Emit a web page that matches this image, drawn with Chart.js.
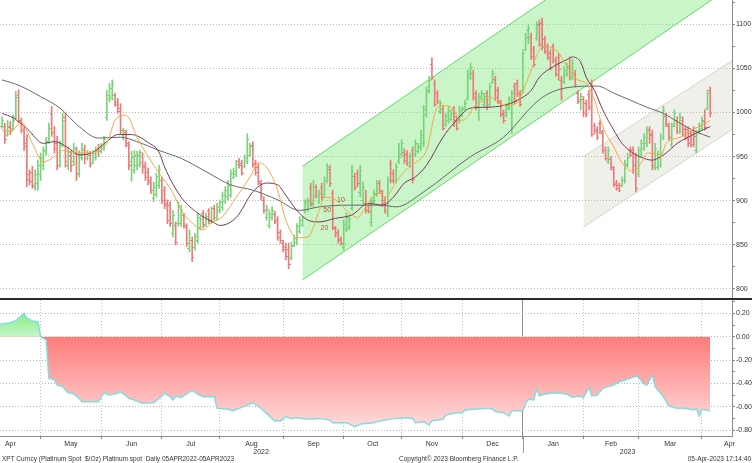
<!DOCTYPE html>
<html>
<head>
<meta charset="utf-8">
<script src="https://cdn.jsdelivr.net/npm/chart.js@4.4.0/dist/chart.umd.min.js"></script>
<style>
  body { margin: 0; background: #fff; width: 752px; height: 463px; overflow: hidden; position: relative; font-family: "Liberation Sans", Arial, sans-serif; }
  #priceBox { position: absolute; left: 0; top: 0; width: 752px; height: 298px; }
  #oscBox { position: absolute; left: 0; top: 298px; width: 752px; height: 158px; }
  .foot { position: absolute; top: 455px; font-size: 6.5px; line-height: 8px; color: #333; white-space: pre; }
</style>
</head>
<body>
<div id="priceBox"><canvas id="priceChart" width="752" height="298"></canvas></div>
<div id="oscBox"><canvas id="oscChart" width="752" height="158"></canvas></div>
<div class="foot" style="left:2px">XPT Curncy (Platinum Spot  $/Oz) Platinum spot  Daily 05APR2022-05APR2023</div>
<div class="foot" style="left:399px">Copyright© 2023 Bloomberg Finance L.P.</div>
<div class="foot" style="right:1px">05-Apr-2023 17:14:40</div>
<script>
// trading day index: 0 = 05 Apr 2022, bars start at day 5
const firstDay = 5;
const opens = [
  985,985,975,984,983,995,1020,990,980,965,
  930,933,917,920,930,940,957,968,1000,978,
  965,941,965,995,940,952,945,955,932,950,
  958,948,952,944,950,957,956,960,995,1015,
  1018,1020,1012,1005,972,978,963,945,935,940,
  942,944,940,933,924,903,908,918,924,912,
  897,895,863,872,875,875,884,870,846,855,
  848,856,870,886,874,888,877,892,882,889,
  893,900,905,907,927,930,945,943,939,945,
  952,963,943,938,920,901,881,872,881,885,
  879,864,852,848,845,836,850,853,866,873,
  889,891,915,896,915,900,916,908,924,936,
  909,869,864,857,848,868,870,892,928,931,
  910,901,897,895,876,900,908,920,909,901,
  886,942,932,923,945,953,955,953,941,957,
  953,956,961,965,998,1025,1055,1034,1022,1002,
  1004,987,991,993,1004,992,991,997,1005,1017,
  1040,1045,1022,1007,1016,1010,1022,1010,1035,1038,
  1026,1012,1000,997,1005,980,1030,1034,1022,1026,
  1072,1094,1086,1072,1085,1100,1102,1083,1075,1068,
  1075,1060,1063,1037,1036,1044,1050,1040,1045,1022,
  1015,1015,1011,1021,1033,986,981,988,977,958,
  945,947,936,920,918,918,923,941,958,957,
  950,930,953,960,965,981,976,938,938,941,
  972,996,985,964,987,992,979,992,981,981,
  977,980,957,978,982,990,1005,1025
];
const highs = [
  995,988,991,990,997,1024,1026,994,984,975,
  935,939,935,946,954,961,972,988,1007,984,
  973,968,999,999,961,957,965,961,957,965,
  963,957,956,957,961,964,965,973,1025,1033,
  1037,1022,1016,1010,982,980,967,956,957,956,
  957,954,944,937,927,921,931,940,927,916,
  901,899,889,876,899,895,886,874,867,859,
  863,886,882,889,886,891,893,895,897,901,
  910,916,923,935,937,946,948,946,952,976,
  965,967,946,942,923,904,895,889,893,888,
  882,867,855,852,852,853,861,874,882,882,
  901,903,920,923,918,912,920,927,942,940,
  912,871,867,859,878,886,882,940,931,935,
  940,921,912,897,904,912,923,923,912,904,
  927,946,935,942,965,969,959,957,954,961,
  969,965,980,1008,1029,1041,1062,1037,1025,1014,
  1007,999,1007,1003,1007,995,1007,1007,1014,1048,
  1056,1048,1025,1022,1025,1022,1025,1033,1048,1041,
  1029,1014,1003,1010,1018,1025,1033,1037,1025,1071,
  1090,1099,1090,1075,1103,1105,1107,1086,1078,1071,
  1078,1063,1067,1041,1052,1056,1063,1060,1048,1025,
  1022,1018,1014,1025,1037,988,984,991,980,961,
  961,950,939,923,920,927,946,954,961,961,
  954,961,969,976,984,984,980,965,957,976,
  1007,999,988,988,1003,995,999,995,984,984,
  980,984,980,988,995,1003,1025,1029
];
const lows = [
  982,965,973,975,980,993,988,977,957,916,
  918,914,912,912,923,935,952,965,973,954,
  935,938,961,938,935,933,940,923,927,946,
  942,946,938,942,946,950,954,957,991,1012,
  1014,1007,999,976,969,961,935,922,931,935,
  938,931,923,918,908,899,904,914,897,891,
  874,871,859,850,871,871,869,848,842,831,
  844,852,867,869,871,874,874,878,878,886,
  889,897,901,904,925,927,937,929,937,942,
  950,938,929,918,901,886,878,869,878,874,
  855,852,842,833,823,833,848,850,863,871,
  886,888,893,893,903,897,901,905,920,916,
  867,859,852,850,844,865,867,889,912,916,
  904,897,886,886,871,897,905,908,893,886,
  882,920,920,920,942,950,942,940,938,920,
  950,954,957,961,995,1022,1037,1007,1010,999,
  980,984,988,991,984,980,988,995,1003,1014,
  1037,1014,1003,991,1014,1007,1003,1007,1033,1014,
  1010,995,988,995,1003,976,1010,1018,1007,1022,
  1070,1078,1060,1052,1082,1075,1071,1067,1060,1048,
  1056,1041,1037,1014,1033,1041,1037,1037,1029,1010,
  1003,995,995,1003,973,976,969,976,954,946,
  942,935,916,912,910,916,920,938,950,931,
  910,927,950,957,961,965,935,935,935,938,
  969,984,969,961,984,976,976,973,969,961,
  961,961,954,976,980,980,1003,995
];
const closes = [
  992,970,985,980,992,1018,992,980,962,925,
  922,918,930,940,948,956,967,983,978,960,
  940,963,992,945,955,940,960,930,952,960,
  948,954,942,954,958,956,962,970,1020,1028,
  1032,1010,1002,980,980,965,940,950,952,952,
  955,938,927,921,912,916,928,936,901,895,
  878,875,884,853,895,890,872,852,862,836,
  860,882,879,873,883,878,878,882,893,898,
  906,912,918,931,934,942,940,932,949,970,
  962,942,933,922,905,889,891,885,890,877,
  859,855,845,837,828,849,858,871,878,880,
  898,900,897,905,906,909,904,923,938,920,
  870,862,855,852,874,882,879,934,916,920,
  935,916,889,888,899,909,920,911,897,889,
  923,924,923,938,950,965,946,944,951,925,
  965,962,975,1004,1024,1037,1040,1010,1013,1011,
  983,996,1003,1000,996,983,1003,1004,1011,1044,
  1052,1018,1006,1019,1022,1019,1006,1030,1045,1018,
  1013,998,991,1007,1015,1022,1013,1021,1010,1068,
  1086,1096,1064,1055,1099,1078,1075,1070,1063,1051,
  1060,1044,1049,1018,1048,1053,1040,1056,1032,1013,
  1019,999,998,1006,976,979,972,979,957,949,
  957,938,919,914,912,924,942,950,952,941,
  914,957,965,972,980,975,940,960,953,972,
  1003,987,972,985,999,979,995,976,972,965,
  964,973,976,986,992,984,1022,1000
];

// moving averages
const slowDays = [5,11,19,26,33,40,48,54,62,70,79,88,96,105,113,120,131,143,148,158,175,187,197,201,206,212,221,227,233,239,245,251,257,262];
const slowVals = [1037,1031,1018,1005,984,971,972,967,957,948,933,918,912,901,889,893,895,895,893,910,950,972,1006,1017,1025,1029,1030,1022,1014,1006,999,988,978,972];
const midDays = [5,9,14,20,24,29,33,38,43,47,52,58,62,64,70,76,82,84,90,96,101,105,108,112,116,120,126,132,138,143,147,151,155,159,165,169,175,181,187,192,197,200,205,210,212,215,217,220,223,227,230,234,238,241,244,246,250,254,257,262];
const midVals = [999,994,982,965,967,960,952,955,967,975,975,966,955,938,904,886,875,872,881,910,920,918,906,889,878,876,880,884,897,895,904,920,927,940,972,988,1005,1006,1008,1014,1025,1040,1052,1060,1063,1057,1040,1025,1003,980,965,954,948,946,950,954,965,972,977,984];
const fastDays = [5,8,12,16,20,24,27,31,34,40,43,46,49,51,54,58,62,67,70,74,78,81,85,90,95,98,101,105,108,112,116,120,122,126,131,134,138,142,144,148,151,155,159,163,165,169,171,174,176,180,182,185,188,192,194,197,199,201,206,210,214,217,220,223,227,230,234,237,239,241,244,246,251,255,258,262];
const fastVals = [980,978,989,965,944,950,957,955,954,957,965,991,997,994,972,950,931,909,889,875,867,875,882,904,927,943,938,912,878,858,859,888,904,901,886,881,898,909,904,921,933,943,957,1006,1008,1003,991,995,1006,1014,1018,1011,1008,1011,1024,1048,1065,1074,1071,1052,1037,1033,1014,984,961,943,933,943,954,954,950,965,972,980,984,991];
const maTags = ['10', '50', '20'];
const maTagDays = [128, 123, 122];
const maTagPrices = [901, 889, 869];

// trend channels: [start day, end day], prices at both ends
const greenChannelDays = [114, 272];
const greenUpper = [939, 1277];
const greenLower = [810, 1148];
const grayChannelDays = [216, 272];
const grayUpper = [950, 1063];
const grayLower = [870, 985];

// lower panel
const oscDays = [4,8,10,13,14,16,18,19,21,22,24,25,27,28,29,31,33,34,40,42,44,47,48,50,51,53,56,60,62,64,66,67,68,70,72,74,76,78,82,83,87,89,91,94,96,99,101,104,106,108,110,112,116,120,124,125,130,133,135,140,141,144,148,152,154,155,158,160,161,165,166,170,172,173,176,182,183,184,187,189,190,194,195,196,198,199,200,202,206,210,212,214,216,218,219,221,223,225,227,229,233,235,236,238,239,241,242,244,245,247,250,253,256,257,258,259,262];
const oscVals = [0.106,0.12,0.137,0.2,0.158,0.135,0.129,0.0,-0.028,-0.357,-0.366,-0.414,-0.428,-0.457,-0.48,-0.49,-0.528,-0.557,-0.557,-0.48,-0.5,-0.485,-0.471,-0.508,-0.528,-0.542,-0.571,-0.566,-0.528,-0.485,-0.514,-0.542,-0.508,-0.52,-0.491,-0.457,-0.491,-0.514,-0.514,-0.614,-0.622,-0.634,-0.614,-0.585,-0.566,-0.614,-0.657,-0.722,-0.722,-0.686,-0.70,-0.694,-0.708,-0.70,-0.714,-0.737,-0.737,-0.771,-0.748,-0.737,-0.728,-0.714,-0.70,-0.694,-0.70,-0.737,-0.728,-0.757,-0.72,-0.708,-0.671,-0.651,-0.651,-0.628,-0.622,-0.614,-0.622,-0.642,-0.651,-0.68,-0.634,-0.634,-0.571,-0.537,-0.542,-0.443,-0.508,-0.491,-0.48,-0.491,-0.52,-0.508,-0.52,-0.434,-0.508,-0.50,-0.443,-0.428,-0.414,-0.386,-0.357,-0.337,-0.348,-0.405,-0.414,-0.328,-0.428,-0.485,-0.514,-0.594,-0.614,-0.614,-0.628,-0.614,-0.68,-0.622,-0.634];

// axes
const priceTicks = [800,825,850,875,900,925,950,975,1000,1025,1050,1075,1100,1125];
const oscTicks = [-8,-7,-6,-5,-4,-3,-2,-1,0,1,2,3].map(k => k / 10);
const monthStarts = [19, 41, 63, 84, 107, 129, 150, 172, 194, 216, 236, 259];
const yearBreak = 194;
const monthLabelDays = [8, 30, 52, 73.5, 95.5, 118, 139.5, 161, 183, 205, 226, 247.5, 269];
const monthLabels = ['Apr','May','Jun','Jul','Aug','Sep','Oct','Nov','Dec','Jan','Feb','Mar','Apr'];
const yearLabelDays = [99, 232];
const yearLabels = ['2022', '2023'];

const dayMin = 4.25, dayMax = 269.9;
const upColor = '#79d379', downColor = '#ef7878';
const fontFamily = "'Liberation Sans', Arial, sans-serif";

const pts = (xs, ys) => xs.map((d, i) => ({x: d, y: ys[i]}));
const bars = opens.map((o, i) => ({x: firstDay + i, y: [lows[i], highs[i]]}));
const barColors = opens.map((o, i) => closes[i] >= o ? upColor : downColor);

function noPad(s) { s.paddingLeft = 0; s.paddingRight = 0; s.paddingTop = 0; s.paddingBottom = 0; }

// open / close dashes on each bar
const ohlcTicks = {
    id: 'ohlcTicks',
    afterDatasetDraw(chart, args) {
        if (args.index !== 4) return;
        const {ctx, chartArea, scales: {x, y}} = chart;
        ctx.save();
        ctx.beginPath();
        ctx.rect(chartArea.left, chartArea.top, chartArea.width, chartArea.height);
        ctx.clip();
        opens.forEach((o, i) => {
            const px = Math.round(x.getPixelForValue(firstDay + i));
            ctx.fillStyle = barColors[i];
            ctx.fillRect(px - 2, Math.round(y.getPixelForValue(o)), 2, 1);
            ctx.fillRect(px, Math.round(y.getPixelForValue(closes[i])), 2, 1);
        });
        ctx.restore();
    }
};

const maLabels = {
    id: 'maLabels',
    afterDatasetsDraw(chart) {
        const {ctx, scales: {x, y}} = chart;
        ctx.save();
        ctx.font = '7px ' + fontFamily;
        ctx.fillStyle = '#b0553b';
        ctx.textAlign = 'center';
        ctx.textBaseline = 'middle';
        maTags.forEach((t, i) => ctx.fillText(t, x.getPixelForValue(maTagDays[i]), y.getPixelForValue(maTagPrices[i])));
        ctx.restore();
    }
};

const priceChart = new Chart(document.getElementById('priceChart').getContext('2d'), {
    type: 'line',
    data: {
        datasets: [
            { data: pts(greenChannelDays, greenUpper), borderColor: '#62da62', borderWidth: 1, pointRadius: 0, fill: false, order: 10 },
            { data: pts(greenChannelDays, greenLower), borderColor: '#62da62', borderWidth: 1, pointRadius: 0, fill: '-1', backgroundColor: 'rgba(120,230,120,0.40)', order: 10 },
            { data: pts(grayChannelDays, grayUpper), borderColor: '#d4d4c6', borderWidth: 1, pointRadius: 0, fill: false, order: 9 },
            { data: pts(grayChannelDays, grayLower), borderColor: '#d4d4c6', borderWidth: 1, pointRadius: 0, fill: '-1', backgroundColor: 'rgba(205,205,185,0.30)', order: 9 },
            { type: 'bar', data: bars, backgroundColor: barColors, borderWidth: 0, barThickness: 1, order: 5 },
            { data: pts(slowDays, slowVals), borderColor: '#686868', borderWidth: 1, pointRadius: 0, cubicInterpolationMode: 'monotone', order: 3 },
            { data: pts(midDays, midVals), borderColor: '#753b55', borderWidth: 1, pointRadius: 0, cubicInterpolationMode: 'monotone', order: 2 },
            { data: pts(fastDays, fastVals), borderColor: '#f3a744', borderWidth: 1, pointRadius: 0, cubicInterpolationMode: 'monotone', order: 1 }
        ]
    },
    options: {
        responsive: false,
        animation: false,
        events: [],
        layout: { padding: 0, autoPadding: false },
        plugins: { legend: { display: false }, tooltip: { enabled: false } },
        scales: {
            x: { type: 'linear', min: dayMin, max: dayMax, display: false, offset: false },
            y: {
                position: 'right',
                min: 789.7,
                max: 1127.6,
                afterBuildTicks: s => { s.ticks = priceTicks.map(v => ({value: v})); },
                ticks: {
                    callback: v => v % 50 === 0 ? String(v) : '',
                    font: { size: 7, family: fontFamily },
                    color: '#333',
                    padding: 1
                },
                grid: {
                    color: c => (c.tick && c.tick.value % 50 === 0) ? '#b4b4b4' : 'rgba(0,0,0,0)',
                    tickColor: '#8a8a8a',
                    tickLength: 3
                },
                border: { display: true, color: '#8a8a8a', dash: [1, 2] },
                afterFit: s => { s.width = 20; noPad(s); }
            }
        }
    },
    plugins: [ohlcTicks, maLabels]
});

// thick divider above the lower panel and the year mark under its axis
const panelMarks = {
    id: 'panelMarks',
    afterDraw(chart) {
        const {ctx, chartArea, scales: {x}} = chart;
        ctx.save();
        ctx.fillStyle = '#2b2b2b';
        ctx.fillRect(0, 0, chart.width, 2);
        const px = Math.round(x.getPixelForValue(yearBreak)) + 0.5;
        ctx.strokeStyle = '#9a9a9a';
        ctx.lineWidth = 1;
        ctx.beginPath();
        ctx.moveTo(px, chartArea.bottom);
        ctx.lineTo(px, chartArea.bottom + 17);
        ctx.stroke();
        ctx.restore();
    }
};

const oscChart = new Chart(document.getElementById('oscChart').getContext('2d'), {
    type: 'line',
    data: {
        datasets: [{
            data: pts(oscDays, oscVals),
            borderColor: '#85dcdc',
            borderWidth: 1.5,
            pointRadius: 0,
            tension: 0,
            fill: 'origin',
            backgroundColor: c => {
                const {chart} = c;
                const area = chart.chartArea;
                if (!area) return 'rgba(0,0,0,0)';
                const z = (chart.scales.y.getPixelForValue(0) - area.top) / (area.bottom - area.top);
                const g = chart.ctx.createLinearGradient(0, area.top, 0, area.bottom);
                g.addColorStop(0, '#62ea62');
                g.addColorStop(Math.max(0, z - 0.002), '#c6f6c6');
                g.addColorStop(z, '#ff7b7b');
                g.addColorStop(1, '#ffe4e4');
                return g;
            }
        }]
    },
    options: {
        responsive: false,
        animation: false,
        events: [],
        layout: { padding: { top: 2, left: 0, right: 0, bottom: 0 }, autoPadding: false },
        plugins: { legend: { display: false }, tooltip: { enabled: false } },
        scales: {
            x: {
                type: 'linear', min: dayMin, max: dayMax, position: 'bottom', weight: 0,
                afterBuildTicks: s => { s.ticks = monthStarts.map(v => ({value: v})); },
                ticks: { display: false },
                grid: {
                    color: c => (c.tick && c.tick.value === yearBreak) ? '#8c8c8c' : '#c2c2c2',
                    tickColor: '#8c8c8c',
                    tickLength: 3
                },
                border: { display: true, color: '#8c8c8c', dash: c => (c.tick && c.tick.value === yearBreak) ? [] : [1, 2] },
                afterFit: s => { s.height = 3; noPad(s); }
            },
            xm: {
                type: 'linear', min: dayMin, max: dayMax, position: 'bottom', weight: 1,
                afterBuildTicks: s => { s.ticks = monthLabelDays.map(v => ({value: v})); },
                ticks: {
                    callback: (v, i) => monthLabels[i],
                    autoSkip: false, maxRotation: 0, minRotation: 0, padding: 1,
                    font: { size: 7, family: fontFamily }, color: '#333'
                },
                grid: { display: false, drawTicks: false },
                border: { display: false },
                afterFit: s => { s.height = 9; noPad(s); }
            },
            xy: {
                type: 'linear', min: dayMin, max: dayMax, position: 'bottom', weight: 2,
                afterBuildTicks: s => { s.ticks = yearLabelDays.map(v => ({value: v})); },
                ticks: {
                    callback: (v, i) => yearLabels[i],
                    autoSkip: false, maxRotation: 0, minRotation: 0, padding: 0,
                    font: { size: 7, family: fontFamily }, color: '#333'
                },
                grid: { display: false, drawTicks: false },
                border: { display: false },
                afterFit: s => { s.height = 8; noPad(s); }
            },
            y: {
                position: 'right',
                min: -0.851,
                max: 0.3146,
                afterBuildTicks: s => { s.ticks = oscTicks.map(v => ({value: v})); },
                ticks: {
                    callback: v => Math.round(v * 10) % 2 === 0 ? v.toFixed(2) : '',
                    font: { size: 7, family: fontFamily },
                    color: '#333',
                    padding: 1
                },
                grid: {
                    color: c => (c.tick && Math.round(c.tick.value * 10) % 2 === 0) ? '#b4b4b4' : 'rgba(0,0,0,0)',
                    tickColor: '#8a8a8a',
                    tickLength: 3
                },
                border: { display: true, color: '#8a8a8a', dash: [1, 2] },
                afterFit: s => { s.width = 20; noPad(s); }
            }
        }
    },
    plugins: [panelMarks]
});
</script>
</body>
</html>
